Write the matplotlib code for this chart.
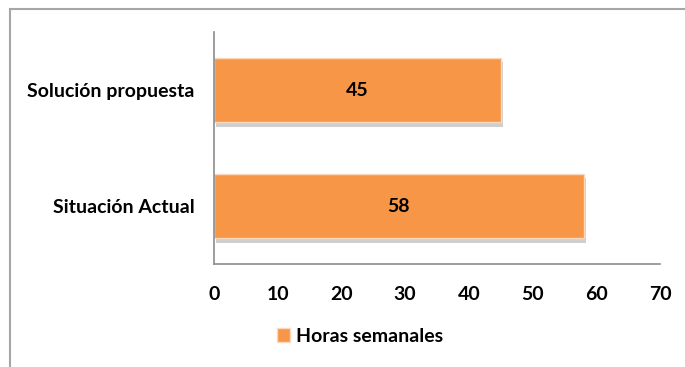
"""Horizontal bar chart of weekly hours: current situation vs proposed solution."""

import matplotlib.pyplot as plt
import matplotlib.patheffects as pe
from matplotlib.lines import Line2D
from matplotlib.patches import Patch

categories = ["Situación Actual", "Solución propuesta"]
horas = [58, 45]
x_ticks = [0, 10, 20, 30, 40, 50, 60, 70]
serie = "Horas semanales"

ORANGE = "#F79646"
AXIS = "#8C8C8C"

plt.rcParams["font.family"] = ["Lato", "DejaVu Sans"]
plt.rcParams["font.weight"] = "bold"

fig = plt.figure(figsize=(6.85, 3.67), dpi=100)
ax = fig.add_axes([214 / 685, 1 - 264 / 367, 446 / 685, 232 / 367])

bars = ax.barh(
    range(len(categories)),
    horas,
    height=0.56,
    color=ORANGE,
    edgecolor="#FCD9BE",
    linewidth=1,
)
for bar in bars:
    bar.set_path_effects([
        pe.SimplePatchShadow(offset=(1.5, -3), shadow_rgbFace="#a0a0a0", alpha=0.5),
        pe.Normal(),
    ])

for bar, val in zip(bars, horas):
    ax.text(
        bar.get_width() / 2,
        bar.get_y() + bar.get_height() / 2,
        str(val),
        ha="center",
        va="center",
        fontsize=14,
        fontweight="bold",
        color="black",
    )

ax.set_xlim(0, 70)
ax.set_ylim(-0.5, len(categories) - 0.5)
ax.set_xticks(x_ticks)
ax.set_yticks(range(len(categories)))
ax.set_yticklabels(categories)
ax.tick_params(axis="both", length=0, labelsize=14)
ax.tick_params(axis="x", pad=16)
ax.tick_params(axis="y", pad=14)

for side in ("top", "right"):
    ax.spines[side].set_visible(False)
for side in ("left", "bottom"):
    ax.spines[side].set_color(AXIS)
    ax.spines[side].set_linewidth(1.2)

# chart area border (left and top edges visible)
border = dict(color="#A6A6A6", linewidth=1.5, transform=fig.transFigure)
fig.add_artist(Line2D([10 / 685, 1.01], [1 - 9 / 367] * 2, **border))
fig.add_artist(Line2D([10 / 685] * 2, [1 - 9 / 367, -0.01], **border))

handles = [Patch(facecolor=ORANGE, edgecolor="#FCD9BE")]
fig.legend(
    handles,
    [serie],
    loc="center",
    bbox_to_anchor=(360 / 685, 1 - 336 / 367),
    frameon=False,
    fontsize=14,
    handlelength=0.7,
    handleheight=0.7,
    handletextpad=0.3,
)

fig.savefig("out.png", dpi=100)
